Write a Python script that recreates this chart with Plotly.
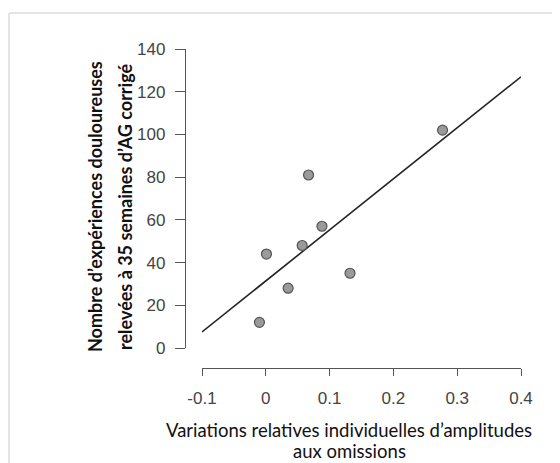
import plotly.graph_objects as go

# values
amplitude_var = [-0.010, 0.001, 0.035, 0.057, 0.067, 0.088, 0.132, 0.277]
nb_experiences = [12, 44, 28, 48, 81, 57, 35, 102]

fit_x = [-0.1, 0.4]
fit_y = [7.5, 127.0]

x_ticks = [-0.1, 0, 0.1, 0.2, 0.3, 0.4]
x_labels = ["-0.1", "0", "0.1", "0.2", "0.3", "0.4"]
y_ticks = [0, 20, 40, 60, 80, 100, 120, 140]

# the page body has an 8px margin, so the figure sits 8px in from the window corner
OFF = 8
W, H = 560 - OFF, 463 - OFF
L, R, T, B = 177, 39, 41, 95
pw, ph = W - L - R, H - T - B


def px(xw):
    # window pixel -> paper x
    return (xw - OFF - L) / pw


def py(yw):
    # window pixel -> paper y
    return (H - B - (yw - OFF)) / ph


fig = go.Figure()

fig.add_trace(go.Scatter(
    x=fit_x, y=fit_y, mode="lines",
    line=dict(color="#222222", width=1.6),
    showlegend=False, hoverinfo="skip",
))

fig.add_trace(go.Scatter(
    x=amplitude_var, y=nb_experiences, mode="markers",
    marker=dict(size=10, color="#9a9a9a", line=dict(color="#555555", width=1.2)),
    showlegend=False,
))

tick_font = dict(family="Liberation Sans, Arial, sans-serif", size=17, color="#444444")

fig.update_xaxes(
    range=[-0.1, 0.4], domain=[px(202), 1], anchor="free", position=0,
    tickvals=x_ticks, ticktext=x_labels,
    showgrid=False, zeroline=False,
    showline=True, linecolor="#555555", linewidth=1.3,
    ticks="outside", ticklen=7, tickwidth=1.3, tickcolor="#555555",
    ticklabelstandoff=7, tickfont=tick_font,
)
fig.update_yaxes(
    range=[0, 140], domain=[py(348), 1], anchor="free", position=0,
    tickvals=y_ticks,
    showgrid=False, zeroline=False,
    showline=True, linecolor="#555555", linewidth=1.3,
    ticks="outside", ticklen=10, tickwidth=1.3, tickcolor="#555555",
    ticklabelstandoff=6, tickfont=tick_font,
)

ytitle_font = dict(family="Lato, Open Sans, sans-serif", size=18, color="#111111")
xtitle_font = dict(family="Lato, Open Sans, sans-serif", size=18.5, color="#111111")

fig.update_layout(
    width=W, height=H,
    margin=dict(l=L, r=R, t=T, b=B),
    plot_bgcolor="white", paper_bgcolor="white",
    annotations=[
        dict(text="<b>Nombre d’expériences douloureuses</b>",
             xref="paper", yref="paper", x=px(95), y=py(207),
             textangle=-90, showarrow=False, font=ytitle_font,
             xanchor="center", yanchor="middle"),
        dict(text="<b>relevées à 35 semaines d’AG corrigé</b>",
             xref="paper", yref="paper", x=px(125), y=py(207),
             textangle=-90, showarrow=False, font=ytitle_font,
             xanchor="center", yanchor="middle"),
        dict(text="Variations relatives individuelles d’amplitudes",
             xref="paper", yref="paper", x=px(349), y=py(430),
             showarrow=False, font=xtitle_font,
             xanchor="center", yanchor="middle"),
        dict(text="aux omissions",
             xref="paper", yref="paper", x=px(349), y=py(451),
             showarrow=False, font=xtitle_font,
             xanchor="center", yanchor="middle"),
    ],
    shapes=[
        dict(type="line", xref="paper", yref="paper",
             x0=px(9), x1=px(560), y0=py(13), y1=py(13),
             line=dict(color="#e4e4e4", width=2)),
        dict(type="line", xref="paper", yref="paper",
             x0=px(9), x1=px(9), y0=py(13), y1=py(463),
             line=dict(color="#e4e4e4", width=2)),
    ],
)

fig.write_html("out.html")
